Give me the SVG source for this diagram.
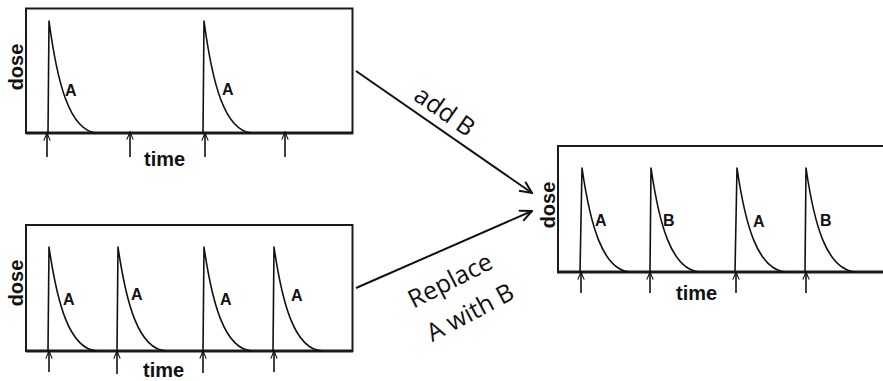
<svg xmlns="http://www.w3.org/2000/svg" width="883" height="381" viewBox="0 0 883 381">
<style>
.frame{fill:none;stroke:#1a1a1a;stroke-width:2}
.base{stroke:#1a1a1a;stroke-width:3}
.pulse{fill:none;stroke:#111;stroke-width:1.6;stroke-linejoin:round}
.dose{stroke:#111;stroke-width:1.6;marker-end:url(#up)}
.ax{font-family:"Liberation Sans",Arial,sans-serif;font-weight:bold;fill:#111}
.lab{font-family:"Liberation Sans",Arial,sans-serif;font-weight:bold;font-size:16px;fill:#111}
.conn{stroke:#111;stroke-width:2;fill:none;marker-end:url(#open)}
.ct{font-family:"Open Sans","DejaVu Sans",sans-serif;font-size:25px;fill:#111}
</style>
<defs>
<marker id="up" viewBox="0 0 10 10" refX="9.5" refY="5" markerWidth="12" markerHeight="8" markerUnits="userSpaceOnUse" orient="auto">
<path d="M0,1 L9.5,5 L0,9" fill="none" stroke="#111" stroke-width="1.4"/>
</marker>
<marker id="open" viewBox="0 0 14 14" refX="13" refY="7" markerWidth="14" markerHeight="14" markerUnits="userSpaceOnUse" orient="auto">
<path d="M1,1.5 L13,7 L1,12.5" fill="none" stroke="#111" stroke-width="2"/>
</marker>
</defs>

<g id="panel-A">
<rect class="frame" x="26" y="8.5" width="326.5" height="124.5"/>
<line class="base" x1="26" y1="133" x2="353" y2="133"/>
<text class="ax" font-size="20" text-anchor="middle" transform="translate(23,67) rotate(-90)">dose</text>
<text class="ax" font-size="20" x="144" y="166">time</text>
<path class="pulse" d="M48,133 L49,21 C57,81 69,131 97,133"/>
<path class="pulse" d="M203,133 L204,21 C212,81 224,131 252,133"/>
<text class="lab" x="65" y="96">A</text>
<text class="lab" x="222" y="95">A</text>
<line class="dose" x1="47" y1="157" x2="47" y2="133"/>
<line class="dose" x1="130" y1="157" x2="130" y2="132"/>
<line class="dose" x1="205" y1="157" x2="205" y2="133"/>
<line class="dose" x1="285" y1="157" x2="285" y2="132"/>
</g>

<g id="panel-AAAA">
<rect class="frame" x="26" y="225" width="326.5" height="126"/>
<line class="base" x1="26" y1="351" x2="353" y2="351"/>
<text class="ax" font-size="20" text-anchor="middle" transform="translate(23,283) rotate(-90)">dose</text>
<text class="ax" font-size="20" x="143" y="377">time</text>
<path class="pulse" d="M48,351 L49,247 C57,302 69,349 97,351"/>
<path class="pulse" d="M117,351 L118,247 C126,302 138,349 166,351"/>
<path class="pulse" d="M203,351 L204,247 C212,302 224,349 252,351"/>
<path class="pulse" d="M273,351 L274,247 C282,302 294,349 322,351"/>
<text class="lab" x="63" y="305">A</text>
<text class="lab" x="131" y="300">A</text>
<text class="lab" x="220" y="305">A</text>
<text class="lab" x="291" y="301">A</text>
<line class="dose" x1="49" y1="372" x2="49" y2="351"/>
<line class="dose" x1="117" y1="374" x2="117" y2="351"/>
<line class="dose" x1="203" y1="373" x2="203" y2="351"/>
<line class="dose" x1="274" y1="372" x2="274" y2="351"/>
</g>

<g id="panel-ABAB">
<path class="frame" d="M883,146 H558 V272"/>
<line class="base" x1="557" y1="272" x2="883" y2="272"/>
<text class="ax" font-size="20" text-anchor="middle" transform="translate(555,205) rotate(-90)">dose</text>
<text class="ax" font-size="20" x="676" y="300">time</text>
<path class="pulse" d="M580,272 L582,168 C590,223 602,270 630,272"/>
<path class="pulse" d="M650,272 L651,168 C659,223 671,270 700,272"/>
<path class="pulse" d="M735,272 L737,168 C745,223 757,270 786,272"/>
<path class="pulse" d="M805,272 L806,168 C814,223 826,270 856,272"/>
<text class="lab" x="595" y="226">A</text>
<text class="lab" x="663" y="226">B</text>
<text class="lab" x="753" y="227">A</text>
<text class="lab" x="820" y="226">B</text>
<line class="dose" x1="581" y1="293" x2="581" y2="272"/>
<line class="dose" x1="650" y1="293" x2="650" y2="272"/>
<line class="dose" x1="736" y1="293" x2="736" y2="272"/>
<line class="dose" x1="806" y1="293" x2="806" y2="272"/>
</g>

<g id="connectors">
<line class="conn" x1="356" y1="71" x2="532" y2="193"/>
<line class="conn" x1="356" y1="288" x2="532" y2="211"/>
<text class="ct" text-anchor="middle" transform="translate(445,111) rotate(35)" y="9">add B</text>
<text class="ct" text-anchor="middle" transform="translate(450,280) rotate(-27)" y="9">Replace</text>
<text class="ct" text-anchor="middle" transform="translate(470,312) rotate(-28)" y="9">A with B</text>
</g>
</svg>
